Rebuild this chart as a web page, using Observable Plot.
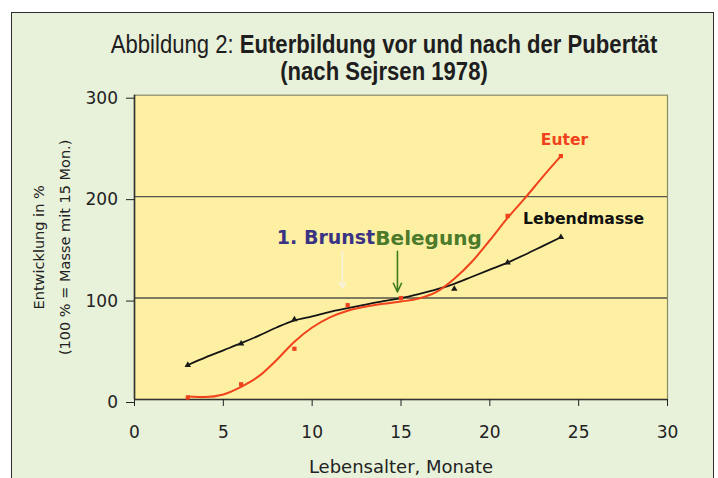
<!DOCTYPE html>
<html>
<head>
<meta charset="utf-8">
<script src="https://cdn.jsdelivr.net/npm/d3@7"></script>
<script src="https://cdn.jsdelivr.net/npm/@observablehq/plot@0.6"></script>
<style>
  html, body { margin: 0; padding: 0; }
  body { width: 718px; height: 478px; background: #ffffff; position: relative; overflow: hidden; }
  #box { position: absolute; left: 11px; top: 12px; width: 701px; height: 480px;
         border: 1.6px solid #2e2e2e; border-bottom: none; background: #e8f1da; }
  #title { position: absolute; left: 34px; width: 700px; text-align: center;
           font-family: "Liberation Sans", Arial, sans-serif; font-size: 26px; white-space: nowrap;
           line-height: 25px; color: #1e1e1e; transform: scaleX(0.85); transform-origin: 350px 0; }
  #title b { font-weight: bold; }
  #t1 { top: 32px; }
  #t2 { top: 58px; }
  #chart { position: absolute; left: 0; top: 80px; }
</style>
</head>
<body>
<div id="box"></div>
<div id="t1" class="t" style="position:absolute;"></div>
<div id="title" style="top:32px">Abbildung 2: <b>Euterbildung vor und nach der Pubertät</b></div>
<div id="title2" style="position:absolute; left:34px; width:700px; top:59px; text-align:center; font-family:'Liberation Sans', Arial, sans-serif; font-size:26px; line-height:25px; white-space:nowrap; color:#1e1e1e; transform:scaleX(0.85); transform-origin:350px 0;"><b>(nach Sejrsen 1978)</b></div>
<div id="chart"></div>
<script>
// ---- data ----
const months      = [3, 4, 5, 6, 7, 8, 9, 10, 11, 12, 13, 14, 15, 16, 17, 18, 19, 20, 21, 22, 23, 24];
const euterCurve  = [3, 2.5, 5, 12.5, 23, 39, 57, 71, 81, 87.5, 91.5, 94.3, 96.6, 99.5, 106, 119, 136, 157, 179, 199, 220, 240];
const massCurve   = [34, 41.5, 48.5, 55.5, 63, 71, 78, 82, 86.5, 90, 93.5, 97, 100, 104, 108.5, 114, 121, 128, 135, 143, 151.5, 160];

const euterMonths = [3, 6, 9, 12, 15, 21, 24];
const euterPoints = [2, 15, 50, 93, 100, 181, 240];
const massMonths  = [3, 6, 9, 18, 21, 24];
const massPoints  = [34, 55, 79, 109, 135, 160];

const seriesNames = ["Euter", "Lebendmasse"];
const eventNames  = ["1. Brunst", "Belegung"];
const eventMonths = [11.7, 14.8];
const eventTop    = [146, 146];
const eventBottom = [110, 106];

const xTicks = [0, 5, 10, 15, 20, 25, 30];
const yTicks = [0, 100, 200, 300];
const gridLines = [100, 200];
const xLabel = "Lebensalter, Monate";
const yLabel = ["Entwicklung in %", "(100 % = Masse mit 15 Mon.)"];

// ---- tables ----
const euterLine = months.map((m, i) => ({month: m, value: euterCurve[i]}));
const massLine  = months.map((m, i) => ({month: m, value: massCurve[i]}));
const euterDots = euterMonths.map((m, i) => ({month: m, value: euterPoints[i]}));
const massDots  = massMonths.map((m, i) => ({month: m, value: massPoints[i]}));
const events    = eventNames.map((n, i) => ({name: n, month: eventMonths[i], top: eventTop[i], bottom: eventBottom[i]}));

const RED = "#f0421c", NAVY = "#3a3384", GREEN = "#4a7a2a", INK = "#222";

const chart = Plot.plot({
  width: 718, height: 398,
  marginLeft: 134, marginRight: 51, marginTop: 14.7, marginBottom: 79,
  x: {domain: [0, 30]},
  y: {domain: [0, 300]},
  style: {fontFamily: "'DejaVu Sans', sans-serif", fontSize: "17px", background: "transparent", overflow: "visible", color: INK},
  marks: [
    Plot.frame({fill: "#fdf0a2", stroke: "#8b8966", strokeWidth: 1.2}),
    Plot.ruleY(gridLines, {stroke: "#55534a", strokeWidth: 1.4}),
    Plot.ruleY([0], {stroke: "#333", strokeWidth: 1.6}),
    Plot.ruleX([0], {stroke: "#333", strokeWidth: 1.6}),
    // event arrows
    Plot.arrow([events[0]], {x: "month", y1: "top", y2: "bottom", stroke: "#f6f2df", strokeWidth: 1.6, headLength: 6}),
    Plot.arrow([events[1]], {x: "month", y1: "top", y2: "bottom", stroke: "#3f7a1e", strokeWidth: 1.6, headLength: 9, headAngle: 50}),
    // curves
    Plot.line(massLine,  {x: "month", y: "value", curve: "monotone-x", stroke: "#151515", strokeWidth: 1.8}),
    Plot.line(euterLine, {x: "month", y: "value", curve: "monotone-x", stroke: RED, strokeWidth: 2}),
    // markers
    Plot.dot(massDots,  {x: "month", y: "value", symbol: "triangle", r: 2.4, fill: "#1a1a1a"}),
    Plot.dot(euterDots, {x: "month", y: "value", symbol: "square", r: 2.4, fill: RED}),
    // labels
    Plot.text([seriesNames[0]], {x: 24.2, y: 255.5, text: d => d, fontSize: 15.5, fontWeight: "bold", fill: RED}),
    Plot.text([seriesNames[1]], {x: 25.28, y: 177.6, text: d => d, fontSize: 15.7, fontWeight: "bold", fill: "#111"}),
    Plot.text([eventNames[0]], {x: 10.78, y: 159, text: d => d, fontSize: 19, fontWeight: "bold", fill: NAVY}),
    Plot.text([eventNames[1]], {x: 16.55, y: 159, text: d => d, fontSize: 20, fontWeight: "bold", fill: GREEN}),
    // axes
    Plot.axisX({ticks: xTicks, tickSize: 7, tickPadding: 19.5, tickFormat: d => d, fontSize: 17, color: INK, label: null}),
    Plot.axisY({ticks: yTicks, tickSize: 8, tickPadding: 8.5, tickFormat: d => d, fontSize: 17, dy: 3, color: INK, label: null}),
    Plot.text([xLabel], {frameAnchor: "bottom", dy: 67.7, lineAnchor: "middle", textAnchor: "middle", text: d => d, fontSize: 18, fill: INK}),
    Plot.text([yLabel[0]], {frameAnchor: "left", dx: -95, rotate: -90, lineAnchor: "middle", textAnchor: "middle", text: d => d, fontSize: 14.5, fill: INK}),
    Plot.text([yLabel[1]], {frameAnchor: "left", dx: -69, rotate: -90, lineAnchor: "middle", textAnchor: "middle", text: d => d, fontSize: 14.5, fill: INK})
  ]
});
document.getElementById("chart").appendChild(chart);
</script>
</body>
</html>
